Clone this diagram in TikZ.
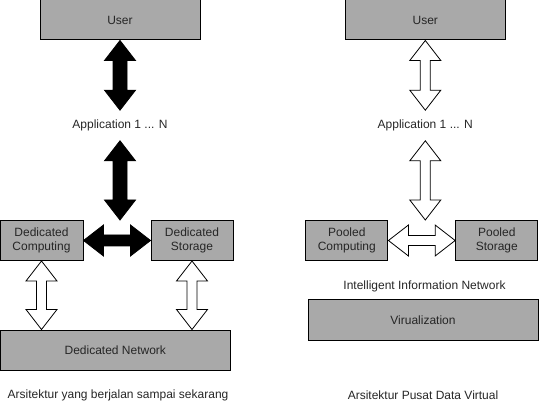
\documentclass[tikz,border=0pt]{standalone}
\usepackage{fontspec}
\setmainfont{Liberation Sans}
\usetikzlibrary{calc}

\definecolor{boxgray}{HTML}{A9A9A9}
\definecolor{textgray}{HTML}{262626}

\tikzset{
  grayblock/.style={draw=black, fill=boxgray, line width=1pt, align=center, minimum height=40pt, inner sep=2pt, text=textgray, font=\fontsize{12}{14}\selectfont},
  plaintext/.style={inner xsep=2pt, inner ysep=9.5pt, text=textgray, font=\fontsize{12}{14}\selectfont},
  solidarrow/.style={fill=black, draw=black, line width=0.8pt, line join=miter},
  hollowarrow/.style={fill=white, draw=black, line width=0.8pt, line join=miter}
}

\newcommand{\duplex}[5]{\draw[#1] (#2) -- ($(#2)!20pt!(#3)!#4!90:(#3)$) -- ($(#2)!20pt!(#3)!#5!90:(#3)$) -- ($(#3)!20pt!(#2)!#5!-90:(#2)$) -- ($(#3)!20pt!(#2)!#4!-90:(#2)$) -- (#3) -- ($(#3)!20pt!(#2)!#4!90:(#2)$) -- ($(#3)!20pt!(#2)!#5!90:(#2)$) -- ($(#2)!20pt!(#3)!#5!-90:(#3)$) -- ($(#2)!20pt!(#3)!#4!-90:(#3)$) -- cycle;}

\begin{document}
\begin{tikzpicture}[x=1pt, y=-1pt]
\useasboundingbox (0,0) rectangle (543,419);

\node[grayblock, minimum width=160pt] (user1) at (120,20) {User};
\node[plaintext] (app1) at (120,125.5) {Application 1 ... N};
\node[grayblock, minimum width=83pt] (dcomp) at (41.5,240.5) {Dedicated\\Computing};
\node[grayblock, minimum width=82pt] (dstor) at (192,240.5) {Dedicated\\Storage};
\node[grayblock, minimum width=230.5pt] (dnet) at (115.3,350) {Dedicated Network};
\node[plaintext] (cap1) at (118,395) {Arsitektur yang berjalan sampai sekarang};
\coordinate (meet1) at (app1.south |- dcomp.north);

\node[grayblock, minimum width=160pt] (user2) at (425.3,20) {User};
\node[plaintext] (app2) at (425.3,125.5) {Application 1 ... N};
\node[grayblock, minimum width=82.3pt] (pcomp) at (346.8,240.5) {Pooled\\Computing};
\node[grayblock, minimum width=82.3pt] (pstor) at (496.8,240.5) {Pooled\\Storage};
\node[plaintext, inner ysep=2pt] (iinet) at (424.5,286) {Intelligent Information Network};
\node[grayblock, minimum width=230pt] (virt) at (423,320) {Virualization};
\node[plaintext] (cap2) at (423,395) {Arsitektur Pusat Data Virtual};
\coordinate (meet2) at (app2.south |- pcomp.north);

\duplex{solidarrow}{user1.south}{app1.north}{15.5pt}{7pt}
\duplex{solidarrow}{app1.south}{meet1}{15.5pt}{7pt}
\duplex{solidarrow}{dcomp.east}{dstor.west}{15.5pt}{5.5pt}
\duplex{hollowarrow}{dcomp.south}{dcomp.south |- dnet.north}{15.5pt}{5pt}
\duplex{hollowarrow}{dstor.south}{dstor.south |- dnet.north}{15.5pt}{5pt}

\duplex{hollowarrow}{user2.south}{app2.north}{15.5pt}{5pt}
\duplex{hollowarrow}{app2.south}{meet2}{15.5pt}{5pt}
\duplex{hollowarrow}{pcomp.east}{pstor.west}{15.5pt}{5pt}
\end{tikzpicture}
\end{document}
